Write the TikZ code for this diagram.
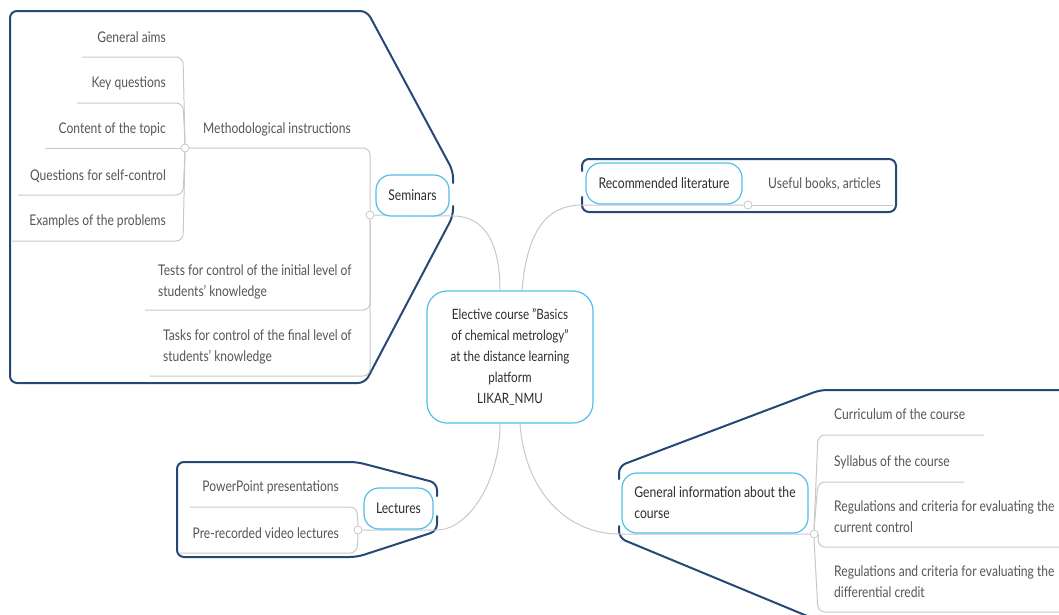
\documentclass[tikz,border=0pt]{standalone}
\usepackage{fontspec}
\setmainfont{Lato}[FakeStretch=0.82]
\definecolor{framec}{RGB}{38,72,118}
\definecolor{nodec}{RGB}{80,190,235}
\definecolor{linec}{RGB}{200,200,200}
\definecolor{textgray}{RGB}{85,85,85}
\definecolor{textdark}{RGB}{45,45,45}
\pgfdeclarelayer{bg}
\pgfsetlayers{bg,main}
\begin{document}
\begin{tikzpicture}[x=1pt,y=-1pt,
 frame/.style={draw=framec, line width=2pt, rounded corners=7pt, line cap=round},
 conn/.style={draw=linec, line width=1pt},
 br/.style={draw=linec, line width=1pt, rounded corners=7pt},
 topic/.style={draw=nodec, line width=1.2pt, fill=white, rounded corners=15pt, inner sep=0pt, text=textdark, font=\fontsize{14.8}{21}\selectfont},
 leaf/.style={inner sep=0pt, text=textgray, font=\fontsize{14.7}{21}\selectfont},
 junc/.style={circle, draw=linec, fill=white, line width=0.8pt, minimum size=8pt, inner sep=0pt}]
\useasboundingbox (0,0) rectangle (1059,614);
\clip (0,0) rectangle (1059,614);

% ---------- topic nodes ----------
\node[topic, rounded corners=20pt, minimum width=166pt, minimum height=132pt, align=center, font=\fontsize{14.2}{21}\selectfont] (c) at (510,357)
  {Elective course "Basics\\of chemical metrology"\\at the distance learning\\platform\\LIKAR\_NMU};
\node[topic, minimum width=73pt, minimum height=41pt] (sem) at (412.5,195.5) {Seminars};
\node[topic, minimum width=156pt, minimum height=41pt] (lit) at (664,183.5) {Recommended literature};
\node[topic, minimum width=69pt, minimum height=41pt] (lec) at (398.5,508.5) {Lectures};
\node[topic, minimum width=186pt, minimum height=60pt, align=left] (gen) at (715,503)
  {General information about the\\course};

% ---------- junctions ----------
\node[junc] (jsem) at (370,215) {};
\node[junc] (jmeth) at (185,148) {};
\node[junc] (jlit) at (748,205) {};
\node[junc] (jlec) at (358,530) {};
\node[junc] (jgen) at (814,534) {};

% ---------- leaves ----------
\node[leaf, anchor=west] (meth) at (203,129) {Methodological instructions};
\node[leaf, anchor=north west, align=left] (tests) at (158,264) {Tests for control of the initial level of\\students' knowledge};
\node[leaf, anchor=north west, align=left] (tasks) at (163,329) {Tasks for control of the final level of\\students' knowledge};
\node[leaf, anchor=east] (ga) at (166,37) {General aims};
\node[leaf, anchor=east] (kq) at (166,83) {Key questions};
\node[leaf, anchor=east] (ct) at (166,129) {Content of the topic};
\node[leaf, anchor=east] (qs) at (166,176) {Questions for self-control};
\node[leaf, anchor=east] (ex) at (166,221) {Examples of the problems};
\node[leaf, anchor=west] (books) at (768,184) {Useful books, articles};
\node[leaf, anchor=east] (ppt) at (339,487) {PowerPoint presentations};
\node[leaf, anchor=east] (vid) at (339,533) {Pre-recorded video lectures};
\node[leaf, anchor=west] (cur) at (834,414) {Curriculum of the course};
\node[leaf, anchor=west] (syl) at (834,462) {Syllabus of the course};
\node[leaf, anchor=north west, align=left] (reg1) at (834,500) {Regulations and criteria for evaluating the\\current control};
\node[leaf, anchor=north west, align=left] (reg2) at (834,565) {Regulations and criteria for evaluating the\\differential credit};

% ---------- underline end points ----------
\coordinate (meth-r) at (370,148);
\coordinate (tests-l) at (145,310); \coordinate (tests-r) at (370,310);
\coordinate (tasks-l) at (150,376); \coordinate (tasks-r) at (370,376);
\coordinate (ga-l) at (82,57);  \coordinate (ga-r) at (183,57);
\coordinate (kq-l) at (77,103); \coordinate (kq-r) at (183,103);
\coordinate (ct-l) at (45,148);
\coordinate (qs-l) at (18,195); \coordinate (qs-r) at (183,195);
\coordinate (ex-l) at (12,241); \coordinate (ex-r) at (183,241);
\coordinate (books-r) at (893,205);
\coordinate (ppt-l) at (190,507); \coordinate (ppt-r) at (357,507);
\coordinate (vid-l) at (180,553); \coordinate (vid-r) at (357,553);
\coordinate (cur-r) at (984,435);  \coordinate (cur-l) at (818,435);
\coordinate (syl-r) at (964,482);  \coordinate (syl-l) at (818,482);
\coordinate (reg1-r) at (1059,547); \coordinate (reg1-l) at (818,547);
\coordinate (reg2-r) at (1059,612); \coordinate (reg2-l) at (818,612);

\begin{pgfonlayer}{bg}
% ---------- frames ----------
\draw[frame] (453,183) -- (453,171) -- (367,11) -- (10,11) -- (10,383) -- (365,383) -- (453,216) -- (453,206);
\draw[frame] (437,496) -- (437,483) -- (357,462) -- (177,462) -- (177,557) -- (357,557) -- (437,531) -- (437,516);
\draw[frame] (582,171) -- (582,159) -- (896,159) -- (896,212) -- (582,212) -- (582,197);
\draw[frame] (619,479) -- (619,466) -- (820,390) -- (1075,390);
\draw[frame] (619,526) -- (619,538) -- (812,618) -- (1075,618);

% ---------- main connectors ----------
\draw[conn] ([xshift=-10pt]c.north) .. controls +(0,-50) and +(30,0) .. (453,216) -- (jsem);
\draw[conn] ([xshift=12pt]c.north) .. controls +(5,-60) and +(-35,0) .. (582,205) -- (jlit);
\draw[conn] ([xshift=-10pt]c.south) .. controls +(0,60) and +(30,0) .. (437,530) -- (jlec);
\draw[conn] ([xshift=10pt]c.south) .. controls +(5,70) and +(-50,0) .. (619,534) -- (jgen);

% ---------- branch underlines ----------
\draw[br] (jsem.north) -- (meth-r) -- (jmeth.east);
\draw[br] (jsem.south) -- (tests-r) -- (tests-l);
\draw[br] (jsem.south) -- (tasks-r) -- (tasks-l);
\draw[br] (jmeth.north) -- (ga-r) -- (ga-l);
\draw[br] (jmeth.north) -- (kq-r) -- (kq-l);
\draw[br] (jmeth.west) -- (ct-l);
\draw[br] (jmeth.south) -- (qs-r) -- (qs-l);
\draw[br] (jmeth.south) -- (ex-r) -- (ex-l);
\draw[br] (jlit.east) -- (books-r);
\draw[br] (jlec.north) -- (ppt-r) -- (ppt-l);
\draw[br] (jlec.south) -- (vid-r) -- (vid-l);
\draw[br] (jgen.north) -- (cur-l) -- (cur-r);
\draw[br] (jgen.north) -- (syl-l) -- (syl-r);
\draw[br] (jgen.east) -- (reg1-l) -- (reg1-r);
\draw[br] (jgen.south) -- (reg2-l) -- (reg2-r);
\end{pgfonlayer}
\end{tikzpicture}
\end{document}
